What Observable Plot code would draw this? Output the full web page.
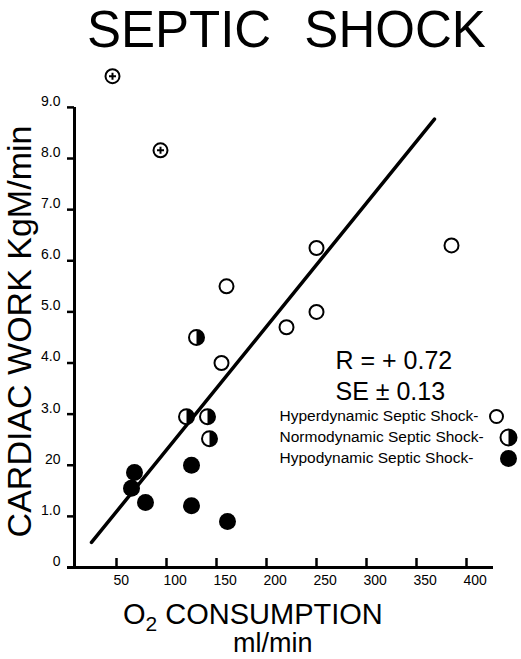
<!DOCTYPE html>
<html><head><meta charset="utf-8">
<script src="https://cdn.jsdelivr.net/npm/d3@7"></script>
<script src="https://cdn.jsdelivr.net/npm/@observablehq/plot@0.6"></script>
<style>
body{margin:0;background:#fff;}
#wrap{position:relative;width:521px;height:659px;overflow:hidden;font-family:"Liberation Sans",Arial,Helvetica,sans-serif;color:#000;}
#title{position:absolute;left:87px;top:0px;font-size:51px;line-height:normal;word-spacing:19px;white-space:nowrap;}
#chart{position:absolute;left:0;top:56px;}
.xl{position:absolute;white-space:nowrap;}
</style></head><body>
<div id="wrap">
<div id="title">SEPTIC SHOCK</div>
<div id="chart"></div>
<div class="xl" style="left:123px;top:600px;font-size:29px;line-height:29px;">O<span style="font-size:21px;position:relative;top:7px;">2</span> CONSUMPTION</div>
<div class="xl" style="left:233px;top:630px;font-size:27px;line-height:27px;">ml/min</div>
</div>
<script>
// Hyperdynamic septic shock (open circles)
const hyperX = [250, 160, 385, 250, 220, 155];
const hyperY = [6.25, 5.5, 6.3, 5.0, 4.7, 4.0];
// Normodynamic septic shock (half-filled circles)
const normoX = [130, 120, 141, 143];
const normoY = [4.5, 2.95, 2.95, 2.52];
// Hypodynamic septic shock (filled circles)
const hypoX = [68, 65, 79, 125, 125, 161];
const hypoY = [1.86, 1.55, 1.27, 2.0, 1.21, 0.9];
// Crossed circles (excluded points)
const excludedX = [46, 94];
const excludedY = [9.61, 8.16];
// Regression line end points
const regressionX = [25, 368];
const regressionY = [0.49, 8.77];
// Ticks
const xTicks = [50, 100, 150, 200, 250, 300, 350, 400];
const yTicks = [0, 1, 2, 3, 4, 5, 6, 7, 8, 9];
const yTickLabels = ["0", "1.0", "20", "3.0", "4.0", "5.0", "6.0", "7.0", "8.0", "9.0"];
const yLabel = "CARDIAC WORK KgM/min";
const statLines = ["R = + 0.72", "SE \u00b1 0.13"];
const legendLabels = ["Hyperdynamic Septic Shock-", "Normodynamic Septic Shock-", "Hypodynamic Septic Shock-"];

const pts = (xs, ys) => xs.map((x, i) => ({x, y: ys[i]}));
const hyper = pts(hyperX, hyperY);
const normo = pts(normoX, normoY);
const hypo = pts(hypoX, hypoY);
const excluded = pts(excludedX, excludedY);
const regression = pts(regressionX, regressionY);

const halfRight = {draw(ctx, size) {
  const r = Math.sqrt(size / Math.PI);
  ctx.moveTo(0, -r); ctx.arc(0, 0, r, -Math.PI / 2, Math.PI / 2); ctx.closePath();
}};
const circlePlus = {draw(ctx, size) {
  const r = Math.sqrt(size / Math.PI);
  ctx.moveTo(r, 0); ctx.arc(0, 0, r, 0, 2 * Math.PI);
  const a = r * 0.5;
  ctx.moveTo(-a, 0); ctx.lineTo(a, 0); ctx.moveTo(0, -a); ctx.lineTo(0, a);
}};

const xMin = 8;
const yMax = 9.8;
const font = "'Liberation Sans', Arial, Helvetica, sans-serif";
const W = 521, H = 540, mT = 10, mB = 29;
const xTickLen = 9;
const pxPerY = (H - mT - mB) / yMax;

const legendRows = [
  {dy: 350, dxSym: 422, r: 6.5, kind: "open"},
  {dy: 371, dxSym: 434, r: 8, kind: "half"},
  {dy: 392, dxSym: 434, r: 8.5, kind: "filled"}
];

const legendMarks = [];
legendRows.forEach((row, i) => {
  legendMarks.push(Plot.text([legendLabels[i]], {frameAnchor: "top-left", dx: 205, dy: row.dy, textAnchor: "start", lineAnchor: "middle", fontSize: 15.5, fill: "black"}));
  if (row.kind === "open") {
    legendMarks.push(Plot.dot([0], {frameAnchor: "top-left", dx: row.dxSym, dy: row.dy, r: row.r, fill: "white", stroke: "black", strokeWidth: 2}));
  } else if (row.kind === "half") {
    legendMarks.push(Plot.dot([0], {frameAnchor: "top-left", dx: row.dxSym, dy: row.dy, r: row.r, fill: "white", stroke: "black", strokeWidth: 2}));
    legendMarks.push(Plot.dot([0], {frameAnchor: "top-left", dx: row.dxSym, dy: row.dy, r: row.r, symbol: halfRight, fill: "black", stroke: "none"}));
  } else {
    legendMarks.push(Plot.dot([0], {frameAnchor: "top-left", dx: row.dxSym, dy: row.dy, r: row.r, fill: "black", stroke: "none"}));
  }
});

const chart = Plot.plot({
  width: W,
  height: H,
  marginLeft: 74,
  marginRight: 25,
  marginTop: mT,
  marginBottom: mB,
  x: {domain: [xMin, 430]},
  y: {domain: [0, yMax]},
  style: {fontFamily: font, color: "black", background: "white", overflow: "visible"},
  marks: [
    // axis lines
    Plot.ruleX([xMin], {y1: 0, y2: 9, strokeWidth: 3, stroke: "black"}),
    Plot.ruleY([0], {x1: 1, x2: 427, strokeWidth: 3, stroke: "black"}),
    // y ticks and labels
    Plot.axisY(yTicks, {tickSize: 7, strokeWidth: 2.5, fill: "none", label: null}),
    Plot.axisY(yTicks, {tickSize: 0, tickPadding: 14, dy: -6, fontSize: 14, fill: "black",
      tickFormat: (d) => yTickLabels[yTicks.indexOf(d)], label: null}),
    // x ticks (pointing up, inside the frame) and labels
    Plot.ruleX(xTicks, {x: (d) => d, y1: 0, y2: xTickLen / pxPerY, stroke: "black", strokeWidth: 2.5}),
    Plot.axisX(xTicks, {tickSize: 0, tickPadding: 8, textAnchor: "start", dx: -3, fontSize: 14, fill: "black", label: null}),
    // regression line
    Plot.line(regression, {x: "x", y: "y", stroke: "black", strokeWidth: 3.5}),
    // points
    Plot.dot(hyper, {x: "x", y: "y", r: 7, fill: "white", stroke: "black", strokeWidth: 2}),
    Plot.dot(normo, {x: "x", y: "y", r: 7.5, fill: "white", stroke: "black", strokeWidth: 2}),
    Plot.dot(normo, {x: "x", y: "y", r: 7.5, symbol: halfRight, fill: "black", stroke: "none"}),
    Plot.dot(hypo, {x: "x", y: "y", r: 8.5, fill: "black", stroke: "none"}),
    Plot.dot(excluded, {x: "x", y: "y", r: 7, symbol: circlePlus, fill: "none", stroke: "black", strokeWidth: 2}),
    // y axis title
    Plot.text([yLabel], {frameAnchor: "left", rotate: -90, dx: -54, dy: 14.5, fontSize: 34, textAnchor: "middle", lineAnchor: "middle", fill: "black"}),
    // statistics
    Plot.text([statLines[0]], {frameAnchor: "top-left", dx: 261, dy: 294.5, textAnchor: "start", lineAnchor: "middle", fontSize: 25, fill: "black"}),
    Plot.text([statLines[1]], {frameAnchor: "top-left", dx: 261, dy: 325, textAnchor: "start", lineAnchor: "middle", fontSize: 25, fill: "black"}),
    ...legendMarks
  ]
});
document.getElementById("chart").appendChild(chart);
</script>
</body></html>
